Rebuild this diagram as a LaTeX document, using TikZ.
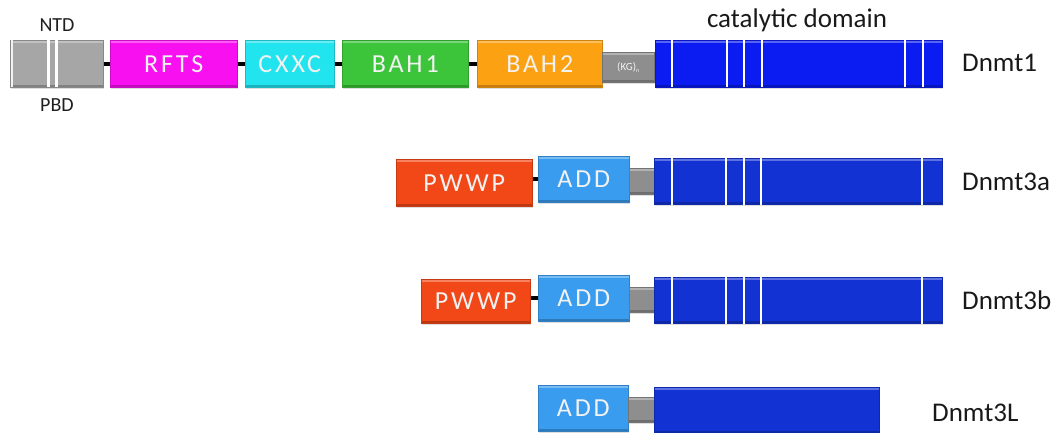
\documentclass[tikz,border=0pt]{standalone}
\usepackage{fontspec}
\setmainfont{Carlito}
\newfontfamily\spacedfont[LetterSpace=11]{Carlito}
\usetikzlibrary{shadows}

% domain colours
\definecolor{cNTD}{HTML}{A6A6A6}
\definecolor{cRFTS}{HTML}{F810F0}
\definecolor{cCXXC}{HTML}{22E4EE}
\definecolor{cBAH1}{HTML}{3CC43A}
\definecolor{cBAH2}{HTML}{FCA112}
\definecolor{cKG}{HTML}{8E8E8E}
\definecolor{cCat}{HTML}{0A1CF2}
\definecolor{cCatB}{HTML}{1232D4}
\definecolor{cPWWP}{HTML}{F24818}
\definecolor{cADD}{HTML}{3A9CEE}
\definecolor{cLabel}{HTML}{F2F2F2}

\tikzset{
  bevel/.style={path picture={
    \fill[white,opacity=.32] (path picture bounding box.north west)
      rectangle ([yshift=-3pt]path picture bounding box.north east);
    \fill[black,opacity=.22] (path picture bounding box.south west)
      rectangle ([yshift=2.5pt]path picture bounding box.south east);
  }},
  dom/.style={rectangle, anchor=north west, inner sep=0pt, bevel,
    fill=#1, draw=#1!82!black, line width=.5pt,
    drop shadow={shadow xshift=1pt, shadow yshift=-1.5pt, opacity=.25},
    text=cLabel, font=\spacedfont\fontsize{26}{30}\selectfont},
  conn/.style={line width=4pt, black},
  stripe/.style={line width=2.6pt, white},
  protlbl/.style={text=black!90, font=\fontsize{27}{32}\selectfont, inner sep=0pt},
  notelbl/.style={text=black!88, font=\fontsize{20}{24}\selectfont, inner sep=0pt, anchor=base},
}

\begin{document}
\begin{tikzpicture}[x=1pt, y=-1pt]
\useasboundingbox (0,0) rectangle (1062,433);

% ---------------- Dnmt1 ----------------
\node[dom=cNTD,  minimum width=93pt,  minimum height=47pt] (ntd)  at (10,40)  {};
\node[dom=cRFTS, minimum width=127pt, minimum height=47pt] (rfts) at (110,40) {RFTS};
\node[dom=cCXXC, minimum width=89pt,  minimum height=47pt] (cxxc) at (245,40) {CXXC};
\node[dom=cBAH1, minimum width=126pt, minimum height=47pt] (bah1) at (342,40) {BAH1};
\node[dom=cBAH2, minimum width=125pt, minimum height=47pt] (bah2) at (477,40) {BAH2};
\node[dom=cKG,   minimum width=52pt,  minimum height=30pt, font=\fontsize{11}{12}\selectfont] (kg) at (602,52)
  {(KG)\raisebox{-2.5pt}{\fontsize{6}{7}\selectfont n}};
\node[dom=cCat,  minimum width=287pt, minimum height=47pt] (cat1) at (655,40) {};

% light left edge of the NTD block and its two PBD bands
\draw[line width=2pt, white!85!cNTD] ([xshift=1.5pt]ntd.north west) -- ([xshift=1.5pt]ntd.south west);
\foreach \s in {38.5,46.5}
  \draw[stripe] ([xshift=\s pt]ntd.north west) -- ([xshift=\s pt]ntd.south west);
\foreach \s in {17,72,89,107,250,268}
  \draw[stripe] ([xshift=\s pt]cat1.north west) -- ([xshift=\s pt]cat1.south west);

\draw[conn] (ntd.east)  -- (rfts.west);
\draw[conn] (rfts.east) -- (cxxc.west);
\draw[conn] (cxxc.east) -- (bah1.west);
\draw[conn] (bah1.east) -- (bah2.west);

\node[notelbl] (ntdlbl) at (57,32)  {NTD};
\node[notelbl] (pbdlbl) at (57,112) {PBD};
\node[protlbl, anchor=base] (catlbl) at (797,28) {catalytic domain};
\node[protlbl, anchor=base west] (n1) at (962,72) {Dnmt1};

% ---------------- Dnmt3a ----------------
\node[dom=cPWWP, minimum width=136pt, minimum height=47pt] (pw2)  at (396,159) {PWWP};
\node[dom=cADD,  minimum width=91pt,  minimum height=46pt] (add2) at (538,156) {ADD};
\node[dom=cKG,   minimum width=26pt,  minimum height=26pt] (g2)   at (629,168) {};
\node[dom=cCatB, minimum width=288pt, minimum height=46pt] (cat2) at (654,158) {};
\foreach \s in {18,72,90,107,268}
  \draw[stripe] ([xshift=\s pt]cat2.north west) -- ([xshift=\s pt]cat2.south west);
\draw[conn] (add2.west) -- (add2.west -| pw2.east);
\node[protlbl, anchor=base west] (n2) at (962,190) {Dnmt3a};

% ---------------- Dnmt3b ----------------
\node[dom=cPWWP, minimum width=109pt, minimum height=44pt] (pw3)  at (421,279) {PWWP};
\node[dom=cADD,  minimum width=91pt,  minimum height=46pt] (add3) at (538,275) {ADD};
\node[dom=cKG,   minimum width=26pt,  minimum height=25pt] (g3)   at (629,287) {};
\node[dom=cCatB, minimum width=288pt, minimum height=46pt] (cat3) at (654,277) {};
\foreach \s in {18,72,90,107,268}
  \draw[stripe] ([xshift=\s pt]cat3.north west) -- ([xshift=\s pt]cat3.south west);
\draw[conn] (add3.west) -- (add3.west -| pw3.east);
\node[protlbl, anchor=base west] (n3) at (962,309) {Dnmt3b};

% ---------------- Dnmt3L ----------------
\node[dom=cADD,  minimum width=90pt,  minimum height=46pt] (add4) at (538,385) {ADD};
\node[dom=cKG,   minimum width=26pt,  minimum height=25pt] (g4)   at (628,397) {};
\node[dom=cCatB, minimum width=225pt, minimum height=46pt] (cat4) at (654,387) {};
\node[protlbl, anchor=base west] (n4) at (932,421) {Dnmt3L};
\end{tikzpicture}
\end{document}
